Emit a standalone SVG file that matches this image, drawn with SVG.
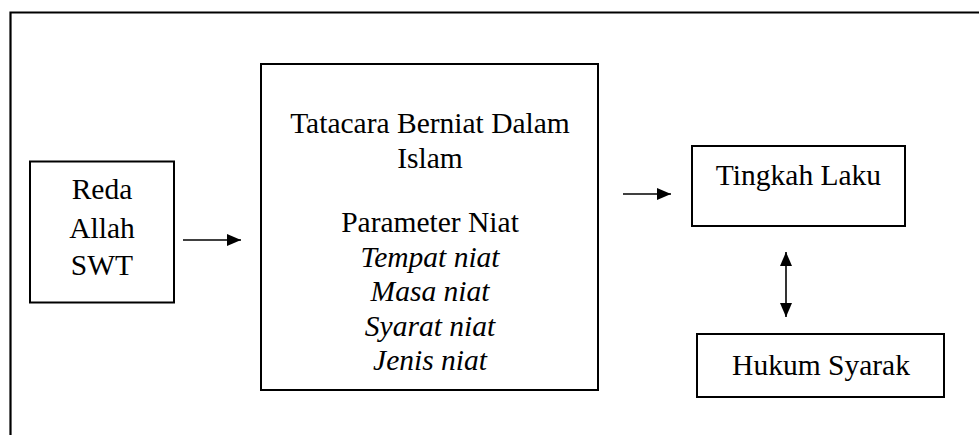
<svg xmlns="http://www.w3.org/2000/svg" width="979" height="435" viewBox="0 0 979 435">
<style>
.box{fill:#fff;stroke:#000;stroke-width:2}
.t{font-family:"Liberation Serif","Times New Roman",serif;font-size:29.5px;fill:#000;text-anchor:middle}
.i{font-style:italic}
.c{stroke:#000;stroke-width:1.6;fill:none}
</style>
<defs>
<marker id="ah" viewBox="0 0 14 12" refX="14" refY="6" markerWidth="14" markerHeight="12" markerUnits="userSpaceOnUse" orient="auto-start-reverse">
<path d="M0,0 L14,6 L0,12 Z" fill="#000"/>
</marker>
</defs>
<rect width="979" height="435" fill="#fff"/>
<path d="M10.5,440 L10.5,12.5 L985,12.5" fill="none" stroke="#000" stroke-width="2.2"/>
<g id="connectors">
<line class="c" x1="183" y1="240" x2="241" y2="240" marker-end="url(#ah)"/>
<line class="c" x1="623" y1="194" x2="671" y2="194" marker-end="url(#ah)"/>
<line class="c" stroke="#333" x1="786" y1="252" x2="786" y2="317" marker-start="url(#ah)" marker-end="url(#ah)"/>
</g>
<g id="reda">
<rect class="box" x="30" y="161.5" width="144" height="141"/>
<text class="t" x="102" y="199">Reda</text>
<text class="t" x="102" y="237.5">Allah</text>
<text class="t" x="102" y="275">SWT</text>
</g>
<g id="tatacara">
<rect class="box" x="261" y="64" width="337" height="326"/>
<text class="t" x="430" y="133">Tatacara Berniat Dalam</text>
<text class="t" x="430" y="168">Islam</text>
<text class="t" x="430" y="232">Parameter Niat</text>
<text class="t i" x="430" y="267">Tempat niat</text>
<text class="t i" x="430" y="301">Masa niat</text>
<text class="t i" x="430" y="336">Syarat niat</text>
<text class="t i" x="430" y="370">Jenis niat</text>
</g>
<g id="tingkah">
<rect class="box" x="692" y="146" width="213" height="80"/>
<text class="t" x="798.5" y="185">Tingkah Laku</text>
</g>
<g id="hukum">
<rect class="box" x="697" y="334" width="247" height="63"/>
<text class="t" x="821" y="375">Hukum Syarak</text>
</g>
</svg>
